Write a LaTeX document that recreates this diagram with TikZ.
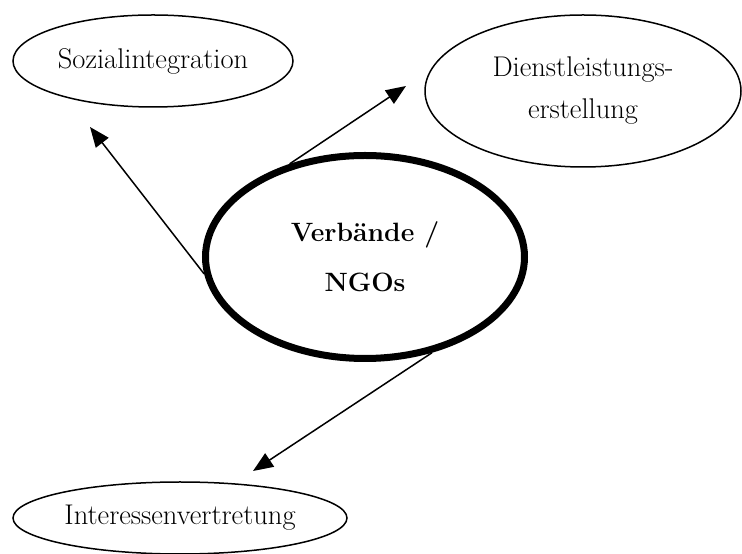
\documentclass[tikz,border=0pt]{standalone}
\usetikzlibrary{shapes.geometric,arrows.meta}
\begin{document}
\begin{tikzpicture}[x=1pt, y=1pt, >={Triangle[length=20pt,width=16pt]},
    feld/.style={ellipse, draw, line width=1.5pt, inner sep=0pt, align=center,
        font=\fontsize{28.5}{42}\selectfont},
    pfeil/.style={->, line width=1.5pt}]
    \useasboundingbox (0,0) rectangle (742,554);

    % Zentrum
    \node[feld, line width=7pt, minimum width=319pt, minimum height=203pt,
        font=\bfseries\fontsize{26.5}{50}\selectfont] (ngo) at (365,297) {Verbände /\\NGOs};

    % Funktionen
    \node[feld, minimum width=280pt, minimum height=92pt] (sozial) at (153,493) {Sozialintegration};
    \node[feld, minimum width=316pt, minimum height=152pt] (dienst) at (583,463) {Dienstleistungs-\\erstellung};
    \node[feld, minimum width=334pt, minimum height=72pt] (interesse) at (180,36) {Interessenvertretung};

    % Pfeilspitzen
    \coordinate (sozialspitze) at (90,427);
    \coordinate (dienstspitze) at (406,468);
    \coordinate (interessespitze) at (253,83);

    % Pfeile
    \draw[pfeil] (ngo.186.5) -- (sozialspitze);
    \draw[pfeil] (ngo.129) -- (dienstspitze);
    \draw[pfeil] (ngo.305) -- (interessespitze);
\end{tikzpicture}
\end{document}
